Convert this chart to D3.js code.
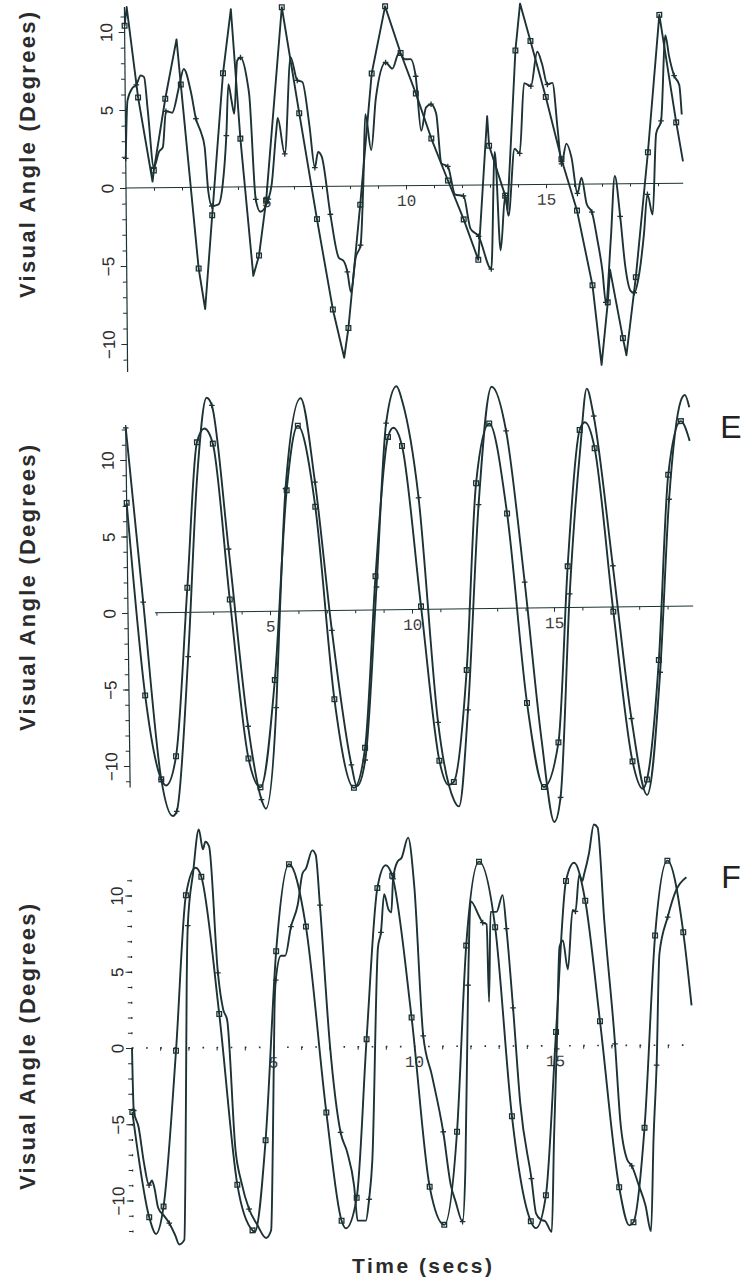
<!DOCTYPE html>
<html>
<head>
<meta charset="utf-8">
<script src="https://cdnjs.cloudflare.com/ajax/libs/d3/7.8.5/d3.min.js"></script>
<style>
	body { margin: 0; background: #fff; }
</style>
</head>
<body>
<svg id="svg"></svg>
<script>
var width = 743, height = 1280;

// [time (s), visual angle (deg)]
// top panel: square series (straight segments) and plus series
var p1SqLine = [[0.08, 11.6], [0.95, 0.4], [1.85, 9.5], [2.79, -7.8], [3.8, 11.4], [4.52, -5.7], [7.74, -11.0],
	[12.92, 4.4], [13.62, -1.6], [14.13, 11.6], [16.93, -11.6], [17.26, -5.5], [17.82, -11.0], [19.9, 1.4]];
var p1SqMarks = [[0, 10.4], [0.46, 5.8], [1.0, 1.1], [1.43, 5.7], [1.99, 6.6], [2.57, -5.2], [3.07, -1.8], [3.5, 7.3],
	[4.1, 3.1], [4.73, -4.4], [5.0, -0.9], [5.62, 11.5], [6.21, 4.7], [6.81, -2.1], [7.35, -7.9], [7.9, -9.1],
	[8.36, -1.2], [8.81, 7.2], [9.31, 11.5], [9.85, 8.5], [10.38, 5.9], [10.92, 3.0], [11.5, 0.3], [12.05, -2.2],
	[12.56, -4.8], [12.98, 2.5], [13.54, -0.7], [13.95, 8.6], [14.49, 9.2], [15.02, 5.6], [15.56, 1.6], [16.1, -1.7],
	[16.63, -6.5], [17.17, -7.6], [17.7, -9.9], [18.18, -6.0], [18.65, 2.0], [19.1, 10.8], [19.67, 3.9]];
var p1PlusLine = [[0.08, 5.6], [0.26, 6.4], [0.56, 7.2], [0.68, 7.1], [0.8, 5.0], [1.19, 2.3], [1.33, 2.6], [1.67, 4.8],
	[1.93, 6.5], [2.1, 7.6], [2.35, 6.1], [2.7, 3.5], [2.82, 2.6], [2.94, -0.3], [3.3, -1.1], [3.45, 0.1], [3.69, 6.6],
	[3.8, 5.5], [3.89, 4.7], [4.01, 8.1], [4.37, 6.7], [4.43, 5.9], [4.79, -1.6], [5.2, 0.1], [5.38, 3.5], [5.44, 4.4],
	[5.92, 8.3], [6.33, 6.7], [6.57, 3.9], [6.87, 2.2], [7.0, 1.9], [7.58, -4.6], [7.75, -4.8], [8.0, -6.8], [8.18, -4.6],
	[8.48, 0.3], [8.57, 4.6], [8.77, 2.3], [8.95, 5.6], [9.55, 7.5], [9.79, 8.5], [10.0, 8.1], [10.2, 8.1], [10.56, 3.5],
	[10.74, 5.0], [11.1, 4.6], [11.27, 1.4], [11.75, -0.6], [12.29, -2.8], [13.18, 2.1], [13.36, -4.2], [13.65, -2.0],
	[13.89, 2.3], [14.25, 6.5], [14.73, 8.5], [14.9, 7.7], [15.26, 6.5], [15.44, 3.4], [15.74, 2.6], [15.92, 1.7],
	[16.27, 0.4], [16.45, -1.3], [16.81, -3.5], [16.99, -5.6], [17.3, -3.5], [17.46, 0.5], [17.8, -5.2], [18.0, -6.9],
	[18.3, -5.8], [18.48, -3.3], [18.8, -2.0], [18.95, 3.2], [19.31, 9.5], [19.43, 8.2], [19.79, 6.3], [19.87, 4.4]];
var p1PlusMarks = [[0, 1.9], [0.4, 6.6], [1.0, 1.3], [1.45, 4.9], [2.52, 4.4], [3.06, -1.2], [3.6, 3.3], [4.13, 8.3],
	[4.63, -0.8], [5.08, -0.8], [5.68, 2.1], [6.15, 6.8], [6.75, 1.2], [7.29, -1.8], [7.88, -5.5], [8.36, -3.8],
	[9.31, 7.9], [10.38, 7.0], [10.92, 5.2], [11.5, 1.2], [12.05, -0.7], [12.58, -3.3], [13.02, -5.4], [13.54, -0.7],
	[14.07, 2.0], [14.49, 6.3], [15.08, 6.4], [15.56, 1.3], [16.12, -0.6], [16.63, -1.8], [17.1, -7.6], [17.64, -2.1],
	[18.12, -7.0], [18.62, -0.7], [19.13, 4.0], [19.61, 6.9]];

// panel E
var eSqLine = [[1.27, -11.3], [2.77, 12.0], [9.42, 11.9], [11.22, -11.5], [16.17, 12.1], [18.05, -11.9], [19.85, 10.8]];
var eSqMarks = [[0, 7.2], [0.57, -5.4], [1.1, -10.9], [1.63, -9.4], [2.1, 1.6], [2.5, 11.1], [3.06, 11.0], [3.59, 0.8],
	[4.18, -9.6], [4.59, -11.5], [5.14, -4.5], [5.64, 7.9], [6.06, 12.1], [6.64, 6.8], [7.23, -5.8], [7.88, -11.6],
	[8.29, -9.0], [8.73, 2.2], [9.23, 11.3], [9.72, 10.7], [10.32, 0.2], [10.9, -9.9], [11.4, -11.3], [11.9, -4.0],
	[12.31, 8.2], [12.8, 12.1], [13.39, 6.2], [14.01, -6.2], [14.57, -11.7], [15.1, -8.8], [15.5, 2.7], [15.98, 11.6],
	[16.5, 10.4], [17.09, -0.3], [17.7, -10.1], [18.2, -11.3], [18.67, -3.5], [19.08, 8.6], [19.55, 12.1]];
var ePlusLine = [[1.49, -13.3], [2.5, 9.0], [2.86, 14.0], [4.77, -12.9], [5.35, 0], [6.17, 13.9], [7.98, -11.5],
	[9.55, 14.6], [9.75, 13.6], [11.4, -12.5], [11.57, -12.9], [12.9, 14.5], [14.5, -8.5], [14.92, -14.0], [16.0, 10.5],
	[16.25, 14.3], [18.2, -12.3], [19.55, 13.4], [19.7, 13.8], [19.85, 13.0]];
var ePlusMarks = [[0, 12.1], [0.54, 0.7], [1.1, -10.9], [1.63, -13.0], [2.1, -2.9], [3.04, 13.5], [3.57, 4.1],
	[4.18, -7.5], [4.62, -12.3], [5.18, -6.3], [5.6, 8.0], [6.64, 8.4], [7.17, -1.3], [7.8, -10.1], [8.29, -9.8],
	[8.76, 1.5], [9.17, 12.2], [10.28, 7.3], [10.87, -7.4], [11.93, -6.6], [12.39, 6.8], [13.39, 11.6], [13.98, 1.7],
	[15.15, -12.4], [15.56, 0.9], [16.48, 12.5], [17.09, 2.7], [17.68, -7.3], [18.71, -4.3], [19.1, 7.0]];

// panel F
var fSqLine = [[0.82, -12.2], [2.29, 11.8], [4.32, -12.1], [7.55, -11.9], [9.03, 11.9], [14.29, -11.95], [15.71, 12.0],
	[17.6, -11.8], [19.85, 2.6]];
var fSqMarks = [[0, -4.2], [0.58, -11.1], [1.09, -10.4], [1.56, -0.2], [1.94, 10.0], [2.49, 11.2], [3.1, 2.2],
	[3.71, -9.0], [4.24, -12.0], [4.72, -6.1], [5.13, 6.3], [5.6, 12.0], [6.19, 7.9], [6.88, -4.3], [7.4, -11.4],
	[7.94, -9.9], [8.32, 0.5], [8.73, 10.4], [9.26, 11.2], [9.92, 1.9], [10.53, -9.2], [11.04, -11.7], [11.51, -5.6],
	[11.87, 6.6], [12.34, 12.1], [12.9, 7.8], [13.46, -4.6], [14.11, -11.5], [14.65, -9.8], [15.04, 0.9], [15.42, 10.8],
	[16.1, 9.5], [16.6, 1.6], [17.25, -9.3], [17.75, -11.6], [18.16, -5.4], [18.57, 7.2], [19.02, 12.1], [19.57, 7.4]];
var fPlusLine = [[0, 0], [0.22, -5.2], [0.4, -7.5], [0.68, -8.7], [0.76, -9.1], [0.9, -10.5], [1.1, -11.0], [1.5, -12.3],
	[1.64, -12.9], [1.82, -12.6], [1.9, -4.0], [1.95, 4.0], [2.2, 11.5], [2.41, 14.3], [2.55, 13.0], [2.64, 13.5],
	[2.77, 13.2], [3.24, 2.5], [3.38, 1.8], [3.65, -6.7], [3.85, -8.8], [4.4, -11.6], [4.72, -12.5], [4.9, -12.0],
	[4.98, -6.0], [5.06, 2.5], [5.3, 6.0], [5.45, 6.0], [5.9, 9.3], [6.08, 11.4], [6.2, 11.7], [6.43, 12.9], [6.55, 12.6],
	[7.02, 0.1], [7.61, -6.9], [7.85, -9.1], [7.97, -11.4], [8.26, -11.4], [8.5, -7.5], [8.74, 6.5], [8.97, 10.0],
	[9.12, 9.0], [9.22, 8.8], [9.44, 12.1], [9.6, 12.4], [9.83, 13.7], [10.04, 10.5], [10.63, -1.9], [11.28, -9.1],
	[11.45, -10.2], [11.8, -8.0], [12.04, 9.5], [12.34, 8.5], [12.6, 8.0], [12.67, 2.9], [12.74, 8.8], [12.95, 8.8],
	[13.17, 9.9], [13.76, -3.8], [14.3, -11.0], [14.47, -11.4], [14.62, -11.5], [14.85, -12.2], [14.95, -6.0],
	[15.18, 6.5], [15.3, 6.9], [15.47, 5.0], [15.65, 8.9], [15.89, 11.2], [16.0, 10.8], [16.06, 11.2], [16.24, 12.6],
	[16.42, 14.5], [16.55, 14.3], [16.77, 8.2], [17.3, -4.9], [17.54, -7.5], [17.95, -9.2], [18.18, -10.5],
	[18.37, -12.2], [18.48, -6.0], [18.72, 6.0], [19.31, 10.1], [19.69, 11.0]];
var fPlusMarks = [[0.05, -4.1], [0.58, -9.0], [1.29, -11.5], [2.0, 8.0], [3.06, 4.9], [4.12, -10.6], [5.11, 4.4],
	[5.66, 7.9], [6.69, 9.3], [7.38, -5.6], [8.38, -10.0], [8.85, 7.5], [9.29, 11.0], [10.33, 0.7], [11.02, -5.6],
	[11.69, -11.5], [11.93, 4.0], [12.46, 8.1], [13.3, 7.7], [13.52, 2.5], [14.14, -8.7], [15.06, -0.2], [15.75, 8.8],
	[17.13, 0.1], [17.7, -7.9], [18.6, -1.3], [19.02, 8.4]];

var yMajor = [-10, -5, 0, 5, 10];
var xMajor = [5, 10, 15];
var yTitle = "Visual Angle (Degrees)";
var xTitle = "Time (secs)";

var ink = "#1c3234", textInk = "#2b2b2b";

var svg = d3.select("#svg")
	.attr("width", width)
	.attr("height", height);

var squareMark = d3.symbol().type(d3.symbolSquare).size(22)();
var plusMark = "M-2.8,0H2.8M0,-2.8V2.8";

var panels = [
	{ x0: 126, xs: 28, y0: 188, ys: 15.6, tilt: -0.5, yFrom: -11.8, yTo: 11.6, xFrom: 0, xTo: 19.9,
		dotted: false, labelDx: -18, titleY: 155, letter: null,
		series: [
			{ line: p1SqLine, marks: p1SqMarks, mark: squareMark, curve: d3.curveLinear },
			{ line: p1PlusLine, marks: p1PlusMarks, mark: plusMark, curve: d3.curveMonotoneX }
		] },
	{ x0: 128, xs: 28.4, y0: 613, ys: 15.3, tilt: -0.7, yFrom: -11.4, yTo: 12.1, xFrom: 0.95, xTo: 19.9,
		dotted: false, labelDx: -18, titleY: 588, letter: "E", letterY: 438,
		series: [
			{ line: eSqLine, marks: eSqMarks, mark: squareMark, curve: d3.curveMonotoneX },
			{ line: ePlusLine, marks: ePlusMarks, mark: plusMark, curve: d3.curveMonotoneX }
		] },
	{ x0: 132, xs: 28.2, y0: 1048, ys: 15.25, tilt: -0.3, yFrom: -12.1, yTo: 11.3, xFrom: 0, xTo: 19.9,
		dotted: true, labelDx: -14, titleY: 1047, letter: "F", letterY: 888,
		series: [
			{ line: fSqLine, marks: fSqMarks, mark: squareMark, curve: d3.curveMonotoneX },
			{ line: fPlusLine, marks: fPlusMarks, mark: plusMark, curve: d3.curveMonotoneX }
		] }
];

panels.forEach(plot);

svg.append("text")
	.attr("x", 422)
	.attr("y", 1273)
	.attr("text-anchor", "middle")
	.attr("font-family", "Liberation Sans, Arial, sans-serif")
	.attr("font-weight", "bold")
	.attr("font-size", "21px")
	.attr("textLength", 140)
	.attr("lengthAdjust", "spacing")
	.attr("fill", textInk)
	.text(xTitle);

function plot(p)
{
	var x = d3.scaleLinear().domain([0, 20]).range([p.x0, p.x0 + 20 * p.xs]);
	var y = d3.scaleLinear().domain([-12, 12]).range([p.y0 + 12 * p.ys, p.y0 - 12 * p.ys]);

	svg.append("text")
		.attr("transform", "translate(27," + p.titleY + ") rotate(-90)")
		.attr("text-anchor", "middle")
		.attr("dominant-baseline", "central")
		.attr("font-family", "Liberation Sans, Arial, sans-serif")
		.attr("font-weight", "bold")
		.attr("font-size", "22px")
		.attr("textLength", 286)
		.attr("lengthAdjust", "spacing")
		.attr("fill", textInk)
		.text(yTitle);

	if (p.letter) {
		svg.append("text")
			.attr("x", 731)
			.attr("y", p.letterY)
			.attr("text-anchor", "middle")
			.attr("font-family", "Liberation Sans, Arial, sans-serif")
			.attr("font-size", "32px")
			.attr("fill", "#222")
			.text(p.letter);
	}

	var g = svg.append("g")
		.attr("transform", "rotate(" + p.tilt + "," + p.x0 + "," + p.y0 + ")");

	// y axis
	g.append("line")
		.attr("x1", x(0)).attr("x2", x(0))
		.attr("y1", y(p.yFrom)).attr("y2", y(p.yTo))
		.attr("stroke", ink)
		.attr("stroke-width", 1.2)
		.attr("stroke-dasharray", p.dotted ? "2," + (p.ys - 2) : null);

	var yMinor = g.append("g")
		.attr("transform", "translate(" + x(0) + ",0)")
		.call(d3.axisLeft(y).tickValues(d3.range(Math.ceil(p.yFrom), Math.floor(p.yTo) + 1)).tickSize(4).tickFormat(""));
	yMinor.select(".domain").remove();
	yMinor.attr("color", ink);

	var yAxis = g.append("g")
		.attr("transform", "translate(" + x(0) + ",0)")
		.call(d3.axisLeft(y).tickValues(yMajor).tickSize(6));
	yAxis.select(".domain").remove();
	yAxis.attr("color", ink);
	yAxis.selectAll("text")
		.attr("x", null)
		.attr("dy", null)
		.attr("transform", "translate(" + p.labelDx + ",0) rotate(-90)")
		.attr("text-anchor", "middle")
		.attr("dominant-baseline", "central")
		.attr("font-family", "Liberation Sans, Arial, sans-serif")
		.attr("font-size", "17px")
		.attr("fill", textInk);

	// x axis along zero
	g.append("line")
		.attr("x1", x(p.xFrom)).attr("x2", x(p.xTo))
		.attr("y1", y(0)).attr("y2", y(0))
		.attr("stroke", ink)
		.attr("stroke-width", p.dotted ? 1.6 : 1)
		.attr("stroke-dasharray", p.dotted ? "1.6," + (p.xs / 2 - 1.6) : null);

	var xMinor = g.append("g")
		.attr("transform", "translate(0," + y(0) + ")")
		.call(d3.axisBottom(x).tickValues(d3.range(1, 20)).tickSize(3).tickFormat(""));
	xMinor.select(".domain").remove();
	xMinor.attr("color", ink);

	var xAxis = g.append("g")
		.attr("transform", "translate(0," + y(0) + ")")
		.call(d3.axisBottom(x).tickValues(xMajor).tickSize(4).tickPadding(5));
	xAxis.select(".domain").remove();
	xAxis.attr("color", ink);
	xAxis.selectAll("text")
		.attr("font-family", "Liberation Mono, DejaVu Sans Mono, monospace")
		.attr("font-size", "16px")
		.attr("fill", "#3a3a3a");

	// series
	var line = d3.line()
		.x(function(d) { return x(d[0]); })
		.y(function(d) { return y(d[1]); });

	p.series.forEach(function(s) {
		var pts = s.line.concat(s.marks).sort(function(a, b) { return a[0] - b[0]; });

		g.append("path")
			.datum(pts)
			.attr("d", line.curve(s.curve))
			.attr("fill", "none")
			.attr("stroke", ink)
			.attr("stroke-width", 1.9)
			.attr("stroke-linejoin", "round");

		g.selectAll(null)
			.data(s.marks)
			.enter().append("path")
			.attr("transform", function(d) { return "translate(" + x(d[0]) + "," + y(d[1]) + ")"; })
			.attr("d", s.mark)
			.attr("fill", "none")
			.attr("stroke", ink)
			.attr("stroke-width", 1.3);
	});

	return;
}
</script>
</body>
</html>
